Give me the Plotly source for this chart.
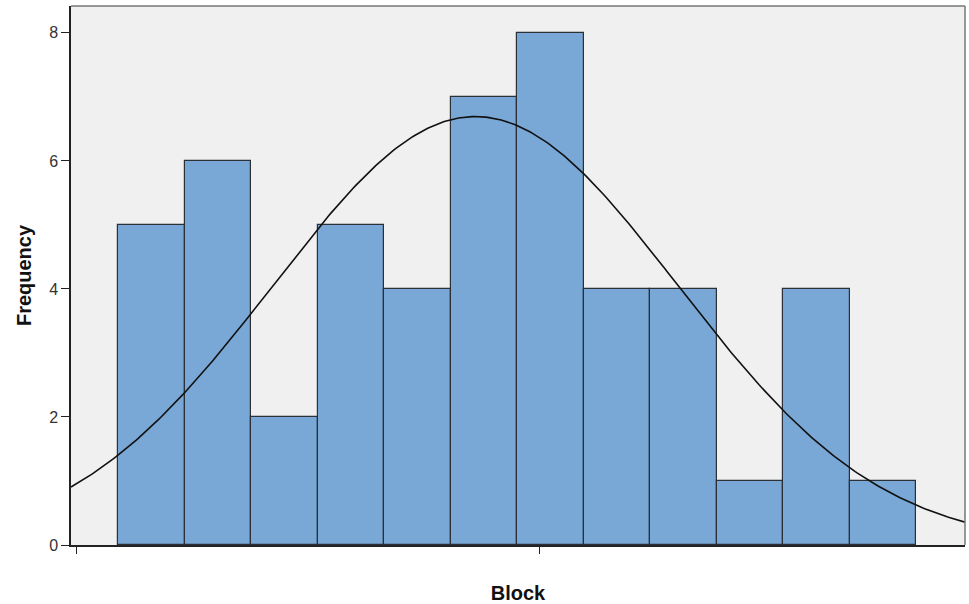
import numpy as np
import plotly.graph_objects as go

# Histogram of Block: frequency per bin
frequencies = [5, 6, 2, 5, 4, 7, 8, 4, 4, 1, 4, 1]
bin_start = 0.617
bin_width = 1.0
x_tick_values = [0, 6.95]
y_tick_values = [0, 2, 4, 6, 8]

# Normal fit parameters (in axis units)
fit_mean = 5.99
fit_sd = 3.04

n_total = sum(frequencies)
centers = [bin_start + bin_width * (i + 0.5) for i in range(len(frequencies))]

x_lo, x_hi = -0.09, 13.35
curve_x = np.linspace(x_lo, x_hi, 400)
curve_y = n_total * bin_width / (fit_sd * np.sqrt(2 * np.pi)) * np.exp(
    -0.5 * ((curve_x - fit_mean) / fit_sd) ** 2
)

fig = go.Figure()
fig.add_trace(go.Bar(
    x=centers,
    y=frequencies,
    width=bin_width,
    marker=dict(color="#79A8D6", line=dict(color="#2B2F36", width=1.2)),
    hoverinfo="y",
))
fig.add_trace(go.Scatter(
    x=curve_x, y=curve_y, mode="lines",
    line=dict(color="#111111", width=1.6),
    hoverinfo="skip",
))

fig.update_layout(
    width=969, height=604,
    margin=dict(l=71, r=4, t=6, b=59),
    paper_bgcolor="white",
    plot_bgcolor="#F0F0F0",
    showlegend=False,
    bargap=0,
    font=dict(family="Liberation Sans, Arial, sans-serif", color="#222222"),
    xaxis=dict(
        range=[x_lo, x_hi],
        tickvals=x_tick_values,
        ticktext=["", ""],
        ticks="outside", ticklen=7, tickwidth=1.2, tickcolor="#222222",
        showgrid=False, zeroline=False,
        showline=True, linecolor="#222222", linewidth=1.5,
        title=dict(text="<b>Block</b>", font=dict(size=20, color="#111111"), standoff=32),
    ),
    yaxis=dict(
        range=[0, 8.42],
        tickvals=y_tick_values,
        ticks="outside", ticklen=8, tickwidth=1.2, tickcolor="#222222",
        tickfont=dict(size=16, color="#333333"),
        showgrid=False, zeroline=False,
        showline=True, linecolor="#222222", linewidth=1.5,
        title=dict(text="<b>Frequency</b>", font=dict(size=20, color="#111111"), standoff=12),
    ),
    shapes=[
        dict(type="line", xref="paper", yref="paper", x0=0, x1=1, y0=1, y1=1,
             line=dict(color="#777777", width=1.5)),
        dict(type="line", xref="paper", yref="paper", x0=1, x1=1, y0=0, y1=1,
             line=dict(color="#777777", width=1.5)),
    ],
)

fig.write_html("out.html")
